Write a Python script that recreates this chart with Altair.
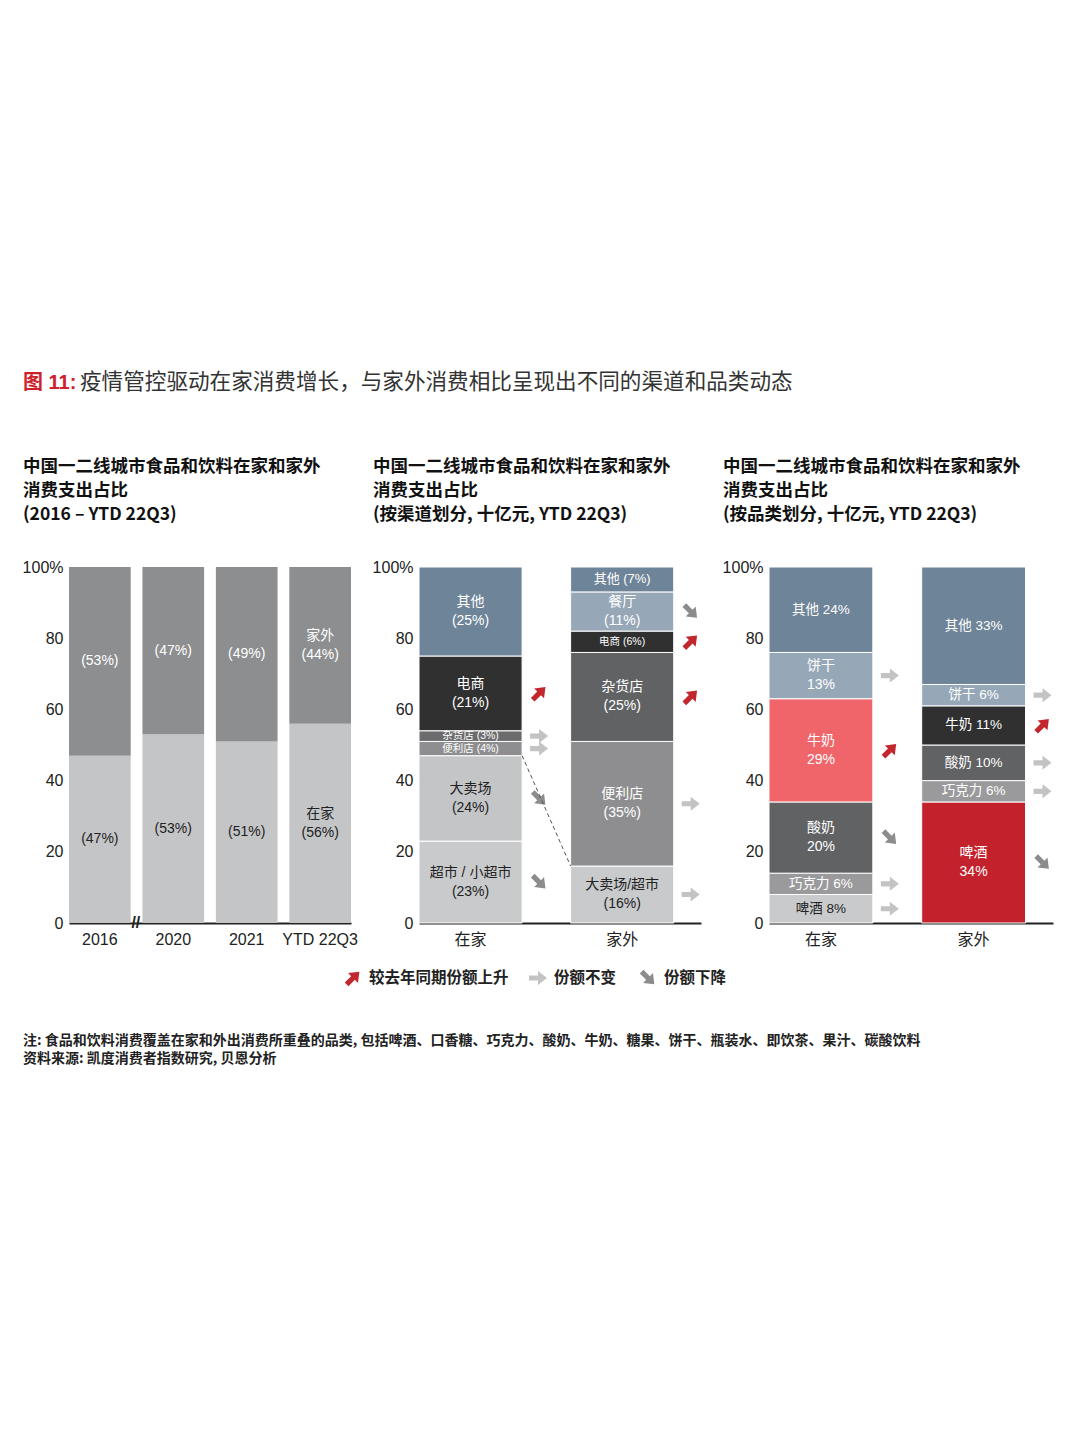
import math
import altair as alt
import pandas as pd

FONT = "Liberation Sans, Noto Sans CJK SC, sans-serif"
CJK = "Noto Sans CJK SC, Liberation Sans, sans-serif"

# ---------------- data ----------------
# Panel 1: share of at-home vs out-of-home spend
years = ["2016", "2020", "2021", "YTD 22Q3"]
home_share = [47, 53, 51, 56]
away_share = [53, 47, 49, 44]

# Panel 2: by channel (bottom -> top)
locs = ["在家", "家外"]
ch_home_names = ["超市 / 小超市", "大卖场", "便利店", "杂货店", "电商", "其他"]
ch_home_vals = [23, 24, 4, 3, 21, 25]
ch_home_trend = ["down", "down", "flat", "flat", "up", None]
ch_away_names = ["大卖场/超市", "便利店", "杂货店", "电商", "餐厅", "其他"]
ch_away_vals = [16, 35, 25, 6, 11, 7]
ch_away_trend = ["flat", "flat", "up", "up", "down", None]

# Panel 3: by category (bottom -> top)
cat_names = ["啤酒", "巧克力", "酸奶", "牛奶", "饼干", "其他"]
cat_home_vals = [8, 6, 20, 29, 13, 24]
cat_home_trend = ["flat", "flat", "down", "up", "flat", None]
cat_away_vals = [34, 6, 10, 11, 6, 33]
cat_away_trend = ["down", "flat", "flat", "up", "flat", None]

# texts
main_title_red = "图 11:"
main_title = "疫情管控驱动在家消费增长，与家外消费相比呈现出不同的渠道和品类动态"
p1_title = ["中国一二线城市食品和饮料在家和家外", "消费支出占比", "(2016 – YTD 22Q3)"]
p2_title = ["中国一二线城市食品和饮料在家和家外", "消费支出占比", "(按渠道划分, 十亿元, YTD 22Q3)"]
p3_title = ["中国一二线城市食品和饮料在家和家外", "消费支出占比", "(按品类划分, 十亿元, YTD 22Q3)"]
legend_items = [("up", "较去年同期份额上升"), ("flat", "份额不变"), ("down", "份额下降")]
note_1 = "注: 食品和饮料消费覆盖在家和外出消费所重叠的品类, 包括啤酒、口香糖、巧克力、酸奶、牛奶、糖果、饼干、瓶装水、即饮茶、果汁、碳酸饮料"
note_2 = "资料来源: 凯度消费者指数研究, 贝恩分析"

# ---------------- styles ----------------
SLATE = "#6e8498"
SLATE_L = "#96a8b7"
DARK = "#303030"
MID = "#616264"
GREY = "#8e8e90"
CHOC = "#9a9a9c"
LIGHT = "#c4c5c7"
LIGHT2 = "#c9cacc"
WHITE = "#ffffff"
INK = "#222222"

ch_home_colors = [LIGHT2, LIGHT, GREY, "#6b6b6d", DARK, SLATE]
ch_home_tcolors = [INK, INK, WHITE, WHITE, WHITE, WHITE]
ch_home_modes = ["2p", "2p", "1ps", "1ps", "2p", "2p"]
ch_away_colors = [LIGHT2, GREY, MID, DARK, SLATE_L, SLATE]
ch_away_tcolors = [INK, WHITE, WHITE, WHITE, WHITE, WHITE]
ch_away_modes = ["2p", "2p", "2p", "1ps", "2p", "1p"]

cat_home_colors = [LIGHT2, CHOC, MID, "#ef6569", SLATE_L, SLATE]
cat_home_tcolors = [INK, WHITE, WHITE, WHITE, WHITE, WHITE]
cat_home_modes = ["1", "1", "2", "2", "2", "1"]
cat_away_colors = ["#c3222c", CHOC, MID, DARK, SLATE_L, SLATE]
cat_away_tcolors = [WHITE] * 6
cat_away_modes = ["2", "1", "1", "1", "1", "1"]

SIZES = {"2p": 14, "1p": 13, "1ps": 10.5, "2": 14, "1": 13.5}
ACOLOR = {"up": "#c1272d", "flat": "#c3c3c3", "down": "#8c8c8c"}
LINE_H = 19


# arrow glyphs as symbol paths (size=4 -> path units are pixels), drawn 17px right of the anchor
def arrow_path(angle_deg, cx=17.0):
    base = [(-9, -2.6), (0, -2.6), (0, -7), (9, 0), (0, 7), (0, 2.6), (-9, 2.6)]
    a = math.radians(angle_deg)
    c, s = math.cos(a), math.sin(a)
    pts = [(cx + dx * c - dy * s, dx * s + dy * c) for dx, dy in base]
    return "M" + " L".join(f"{x:.2f},{y:.2f}" for x, y in pts) + " Z"


TRENDS = ["up", "flat", "down"]
PATHS = [arrow_path(-45), arrow_path(0), arrow_path(45)]


def fmt(name, v, mode):
    if mode == "2p":
        return f"{name}\n({v}%)"
    if mode in ("1p", "1ps"):
        return f"{name} ({v}%)"
    if mode == "2":
        return f"{name}\n{v}%"
    return f"{name} {v}%"


def stacked(loc, names, vals, trends, modes, colors, tcolors):
    rows, lo = [], 0
    for n, v, t, m, c, tc in zip(names, vals, trends, modes, colors, tcolors):
        hi = lo + v
        lab = fmt(n, v, m)
        rows.append(dict(loc=loc, name=n, v=v, lo=lo, hi=hi, mid=(lo + hi) / 2,
                         trend=t if t else "", acolor=ACOLOR.get(t, ""),
                         label=lab, nlines=lab.count("\n") + 1,
                         fsize=SIZES[m], color=c, tcolor=tc))
        lo = hi
    return rows


YAXIS = alt.Axis(values=[0, 20, 40, 60, 80, 100], title=None, grid=False, ticks=False,
                 domain=False, labelFontSize=16, labelPadding=6, labelColor=INK,
                 labelFont=FONT,
                 labelExpr="datum.value == 100 ? '100%' : datum.label")

XAXIS = alt.Axis(title=None, labelAngle=0, ticks=False, domainColor=INK, domainWidth=2,
                 labelFontSize=16, labelPadding=8, labelColor=INK, labelFont=FONT)

one = pd.DataFrame({"a": [0]})


def title_text(lines):
    return alt.Chart(one).mark_text(
        text="\n".join(lines), lineBreak="\n", lineHeight=24, align="left", baseline="top",
        font=CJK, fontSize=17.5, fontWeight="bold", color="#111111").encode(
        x=alt.value(-46), y=alt.value(-109.5))


def panel(df, domain, xscale, width, lines, stroke=True, arrows=True, extra=None):
    base = alt.Chart(df)
    x = alt.X("loc:N", sort=domain, scale=xscale, axis=XAXIS)
    y = alt.Y("lo:Q", scale=alt.Scale(domain=[0, 100], nice=False), axis=YAXIS)
    bars = base.mark_bar(stroke="white", strokeWidth=1 if stroke else 0).encode(
        x=x, y=y, y2="hi:Q", color=alt.Color("color:N", scale=None))
    enc = dict(x=alt.X("loc:N", sort=domain), y="mid:Q", text="label:N",
               color=alt.Color("tcolor:N", scale=None), size=alt.Size("fsize:Q", scale=None))
    lab1 = base.transform_filter("datum.nlines == 1").mark_text(
        font=FONT, baseline="middle").encode(**enc)
    lab2 = base.transform_filter("datum.nlines == 2").mark_text(
        font=FONT, baseline="middle", lineBreak="\n", lineHeight=LINE_H, dy=-LINE_H / 2).encode(**enc)
    layers = [bars, lab1, lab2]
    if arrows:
        arr = base.transform_filter("datum.trend != ''").mark_point(
            filled=True, size=4, opacity=1, strokeWidth=0).encode(
            x=alt.X("loc:N", sort=domain, bandPosition=1), y="mid:Q",
            shape=alt.Shape("trend:N", scale=alt.Scale(domain=TRENDS, range=PATHS), legend=None),
            color=alt.Color("acolor:N", scale=None))
        layers.append(arr)
    layers.append(title_text(lines))
    if extra is not None:
        layers.extend(extra)
    return alt.layer(*layers).properties(width=width, height=356)


# ---- header / legend / notes (drawn in panel 1's frame) ----
head_red = alt.Chart(one).mark_text(
    text=main_title_red, align="left", baseline="middle", font=FONT, fontSize=20,
    fontWeight="bold", color="#d0202a").encode(x=alt.value(-46), y=alt.value(-184))
head_txt = alt.Chart(one).mark_text(
    text=main_title, align="left", baseline="middle", font=CJK, fontSize=21.6,
    color="#333333").encode(x=alt.value(11), y=alt.value(-184))

leg_layers = []
leg_x = [267, 452, 562]
for (t, lab), lx in zip(legend_items, leg_x):
    leg_layers.append(alt.Chart(one).mark_point(
        shape=PATHS[TRENDS.index(t)], filled=True, size=4, opacity=1, strokeWidth=0,
        color=ACOLOR[t]).encode(x=alt.value(lx), y=alt.value(411)))
    leg_layers.append(alt.Chart(one).mark_text(
        text=lab, align="left", baseline="middle", font=CJK, fontSize=15.5,
        fontWeight="bold", color=INK).encode(x=alt.value(lx + 33), y=alt.value(411)))
notes = [
    alt.Chart(one).mark_text(text=note_1, align="left", baseline="middle", font=CJK,
                             fontSize=14, fontWeight="bold", color=INK).encode(
        x=alt.value(-46), y=alt.value(474)),
    alt.Chart(one).mark_text(text=note_2, align="left", baseline="middle", font=CJK,
                             fontSize=14, fontWeight="bold", color=INK).encode(
        x=alt.value(-46), y=alt.value(492)),
]

# ---- panel 1 ----
p1_rows = []
for i, (yr, h, a) in enumerate(zip(years, home_share, away_share)):
    last = i == len(years) - 1
    lh = f"在家\n({h}%)" if last else f"({h}%)"
    la = f"家外\n({a}%)" if last else f"({a}%)"
    p1_rows.append(dict(loc=yr, lo=0, hi=h, mid=h / 2, label=lh, nlines=lh.count("\n") + 1,
                        fsize=14, color="#c4c5c7", tcolor=INK, trend="", acolor=""))
    p1_rows.append(dict(loc=yr, lo=h, hi=100, mid=h + a / 2, label=la, nlines=la.count("\n") + 1,
                        fsize=14, color="#8d8e90", tcolor=WHITE, trend="", acolor=""))
p1_df = pd.DataFrame(p1_rows)
brk = alt.Chart(pd.DataFrame({"loc": [years[0]]})).mark_text(
    text="//", dx=36, dy=0, fontSize=16, font=FONT, fontWeight="bold", color=INK).encode(
    x=alt.X("loc:N", sort=years), y=alt.Y(datum=0))
p1 = panel(p1_df, years, alt.Scale(paddingInner=0.16, paddingOuter=0), 282, p1_title,
           stroke=False, arrows=False,
           extra=[brk, head_red, head_txt] + leg_layers + notes)

# ---- panel 2 ----
p2_df = pd.DataFrame(
    stacked(locs[0], ch_home_names, ch_home_vals, ch_home_trend, ch_home_modes, ch_home_colors, ch_home_tcolors)
    + stacked(locs[1], ch_away_names, ch_away_vals, ch_away_trend, ch_away_modes, ch_away_colors, ch_away_tcolors))
conn_df = pd.DataFrame({"a": [locs[0]], "b": [locs[1]],
                        "y1": [sum(ch_home_vals[:2])], "y2": [ch_away_vals[0]]})
conn = alt.Chart(conn_df).mark_rule(strokeDash=[4, 3], color="#555555", strokeWidth=1).encode(
    x=alt.X("a:N", sort=locs, bandPosition=1), x2=alt.X2("b:N", bandPosition=0),
    y="y1:Q", y2="y2:Q")
band2 = alt.Scale(paddingInner=0.32, paddingOuter=0.09, align=0)
p2 = panel(p2_df, locs, band2, 282, p2_title, extra=[conn])

# ---- panel 3 ----
p3_df = pd.DataFrame(
    stacked(locs[0], cat_names, cat_home_vals, cat_home_trend, cat_home_modes, cat_home_colors, cat_home_tcolors)
    + stacked(locs[1], cat_names, cat_away_vals, cat_away_trend, cat_away_modes, cat_away_colors, cat_away_tcolors))
p3 = panel(p3_df, locs, band2, 284, p3_title)

chart = alt.hconcat(p1, p2, p3, spacing=68, bounds="flush").properties(
    padding={"left": 14, "top": 364, "right": 10, "bottom": 10},
    background="white",
).configure_view(stroke=None)

chart.save("out.html", embed_options={"renderer": "svg", "actions": False})
